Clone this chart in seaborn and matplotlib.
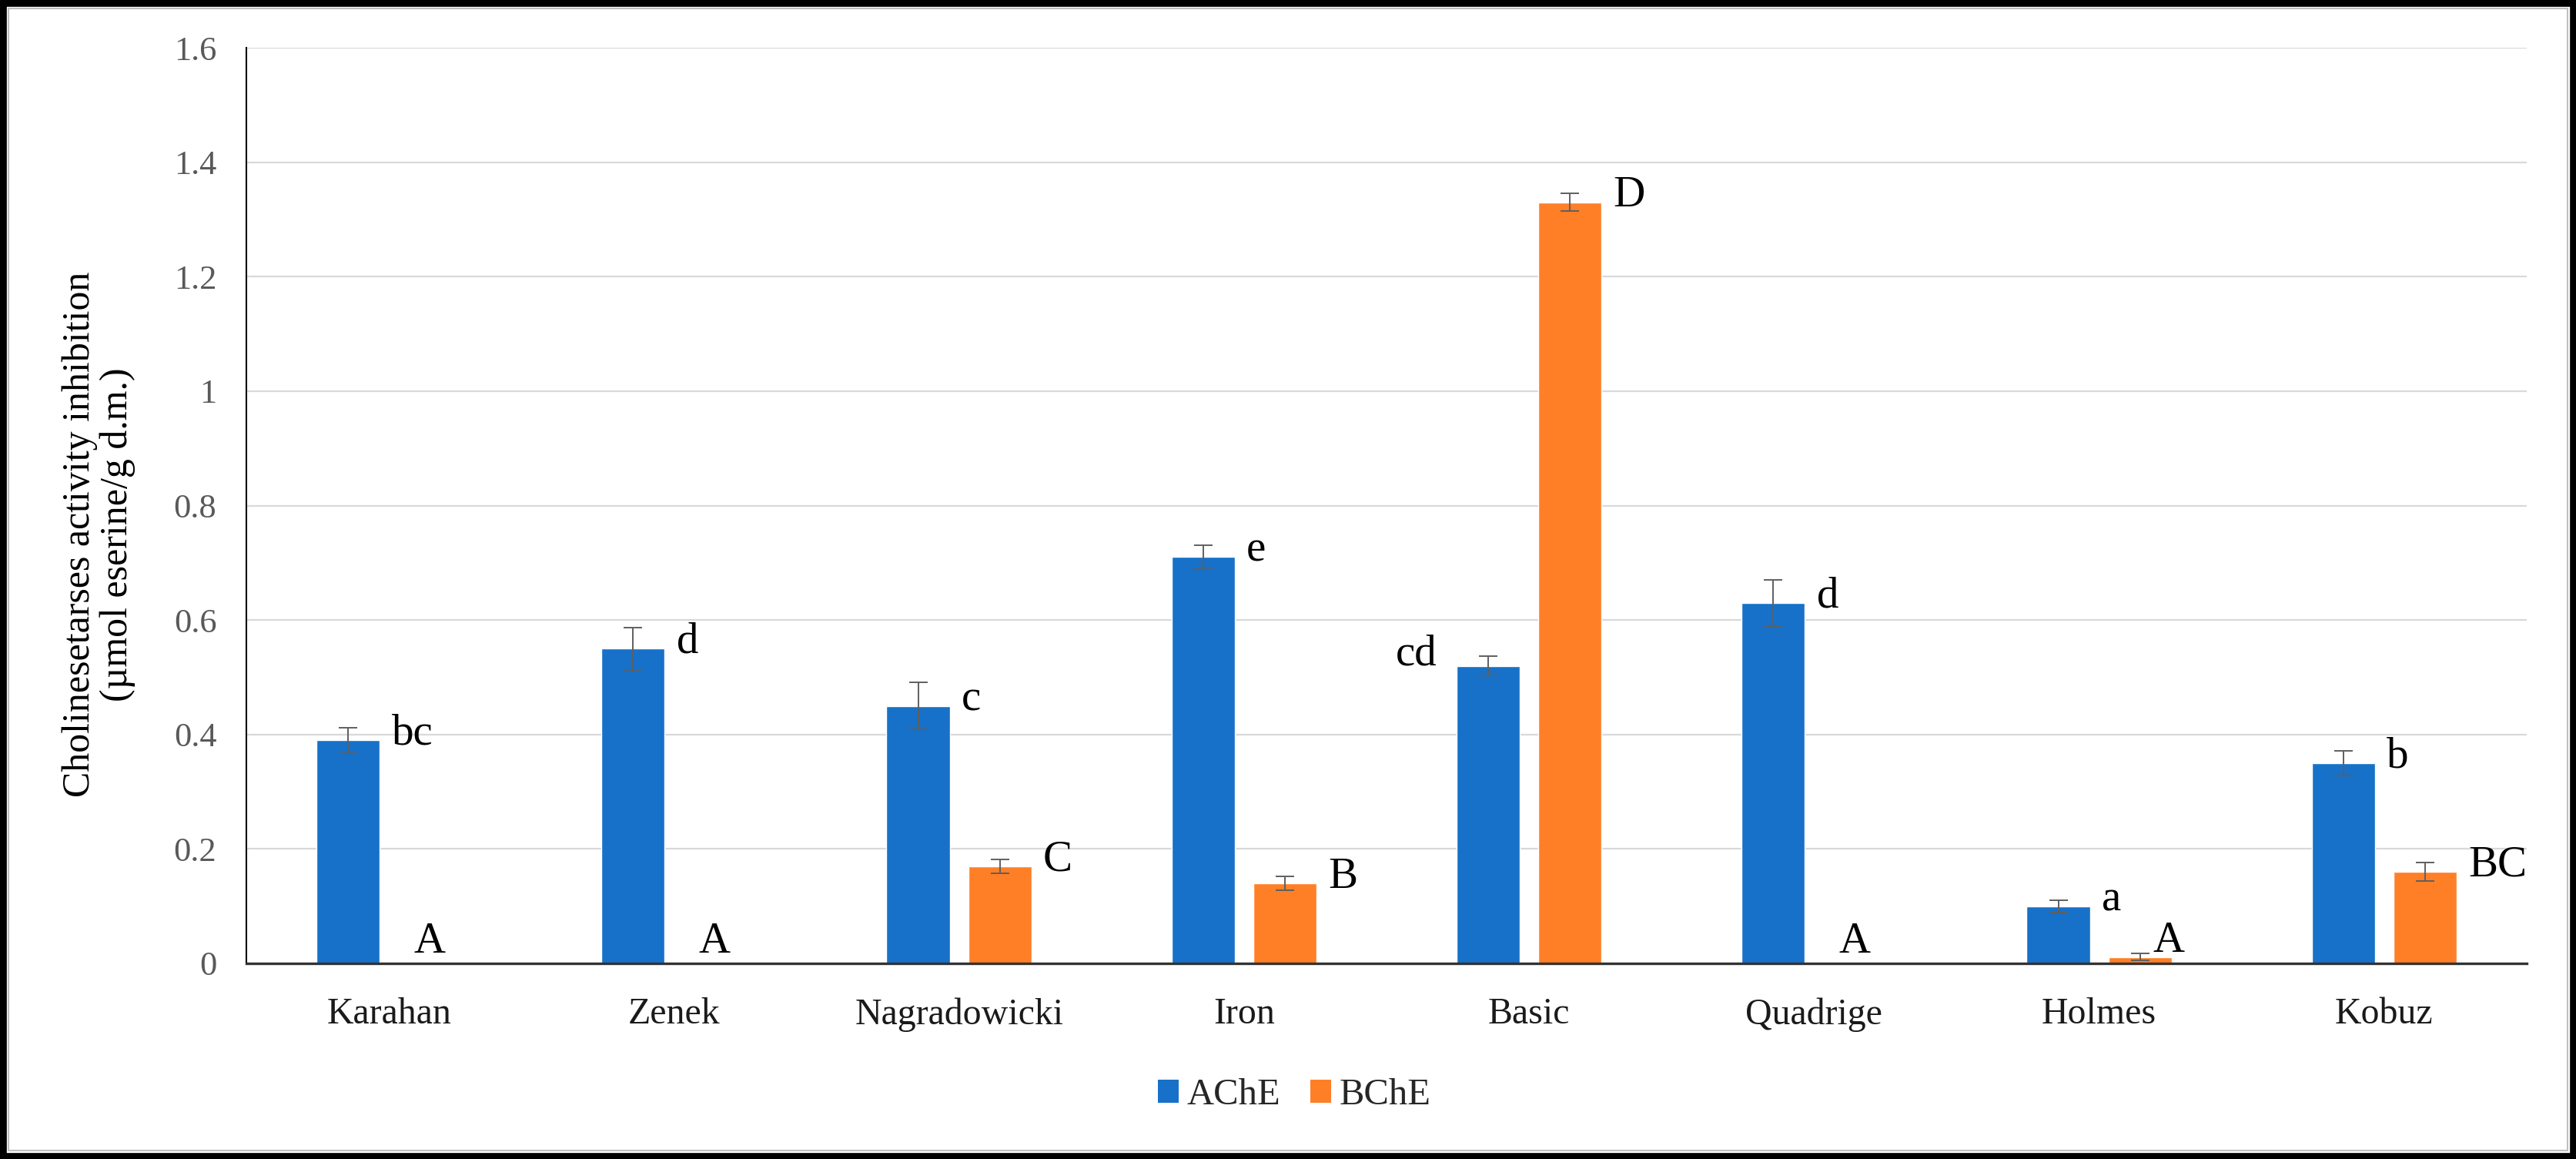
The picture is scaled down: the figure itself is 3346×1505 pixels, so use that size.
import numpy as np
import pandas as pd
import matplotlib
matplotlib.use("Agg")
import matplotlib.pyplot as plt
import seaborn as sns
from matplotlib.patches import Rectangle, Patch

# ---------------- data ----------------
cultivars = ["Karahan", "Zenek", "Nagradowicki", "Iron", "Basic", "Quadrige", "Holmes", "Kobuz"]
series = ["AChE", "BChE"]
ache = [0.39, 0.55, 0.45, 0.71, 0.52, 0.63, 0.10, 0.35]
ache_err = [0.022, 0.037, 0.041, 0.021, 0.017, 0.040, 0.011, 0.022]
bche = [0.0, 0.0, 0.17, 0.14, 1.33, 0.0, 0.011, 0.16]
bche_err = [0.0, 0.0, 0.012, 0.012, 0.015, 0.0, 0.006, 0.016]
ache_letters = ["bc", "d", "c", "e", "cd", "d", "a", "b"]
bche_letters = ["A", "A", "C", "B", "D", "A", "A", "BC"]
yticks = [0, 0.2, 0.4, 0.6, 0.8, 1.0, 1.2, 1.4, 1.6]
ytick_labels = ["0", "0.2", "0.4", "0.6", "0.8", "1", "1.2", "1.4", "1.6"]
ylabel = "Cholinesetarses activity inhibition\n(\u00b5mol eserine/g d.m.)"

# ---------------- style ----------------
sns.set_style("white")
plt.rcParams["font.family"] = ["Liberation Serif", "DejaVu Serif"]
BLUE = "#1771C9"
ORANGE = "#FF7F27"
W, H = 3346, 1505

df = pd.DataFrame({
    "cultivar": cultivars * 2,
    "enzyme": [series[0]] * len(cultivars) + [series[1]] * len(cultivars),
    "value": ache + bche,
})

fig = plt.figure(figsize=(W / 100, H / 100), dpi=100)
fig.patch.set_facecolor("white")
ax = fig.add_axes([320 / W, 1 - 1251 / H, (3282 - 320) / W, (1251 - 62) / H])

sns.barplot(data=df, x="cultivar", y="value", hue="enzyme", order=cultivars,
            hue_order=series, palette=[BLUE, ORANGE], saturation=1,
            width=0.573, gap=0.225, errorbar=None, legend=False, ax=ax)

ax.set_xlim(-0.5, len(cultivars) - 0.5)
ax.set_ylim(0, 1.6)
ax.set_axisbelow(True)
ax.yaxis.grid(True, color="#D9D9D9", linewidth=1.6)
ax.xaxis.grid(False)

for s in ["top", "right"]:
    ax.spines[s].set_visible(False)
ax.spines["left"].set_color("black")
ax.spines["left"].set_linewidth(1.5)
ax.spines["bottom"].set_color("#333333")
ax.spines["bottom"].set_linewidth(2.4)

ax.set_yticks(yticks)
ax.set_yticklabels(ytick_labels)
ax.tick_params(axis="y", direction="inout", length=23.5, width=1.5, color="black",
               labelsize=32, labelcolor="#595959", pad=16)
ax.set_xticks(range(len(cultivars)))
ax.set_xticklabels(cultivars)
ax.tick_params(axis="x", which="major", length=0, labelsize=34.5, labelcolor="#1a1a1a", pad=32)
ax.set_xticks(np.arange(-0.5, len(cultivars)), minor=True)
ax.tick_params(axis="x", which="minor", direction="inout", length=23.5, width=1.5, color="black")
ax.set_xlabel("")
ax.set_ylabel(ylabel, fontsize=36, color="black", linespacing=1.08)
ax.yaxis.set_label_coords(176 / W, 1 - 694 / H, transform=fig.transFigure)

# error bars and letters positioned from the drawn bars
cont_a, cont_b = ax.containers[0], ax.containers[1]
LETTER_FS = 41
for bars, vals, errs, letters, name in [(cont_a, ache, ache_err, ache_letters, "AChE"),
                                        (cont_b, bche, bche_err, bche_letters, "BChE")]:
    xs = [b.get_x() + b.get_width() / 2 for b in bars]
    ex = [x for x, e in zip(xs, errs) if e > 0]
    ey = [v for v, e in zip(vals, errs) if e > 0]
    ee = [e for e in errs if e > 0]
    ax.errorbar(ex, ey, yerr=ee, fmt="none", ecolor="#5f5f5f", elinewidth=1.4,
                capsize=8.3, capthick=1.4, zorder=5)
    for b, v, lab, cult in zip(bars, vals, letters, cultivars):
        x0, w = b.get_x(), b.get_width()
        if v == 0:
            ax.annotate(lab, xy=(x0 + w / 2, 0), xytext=(0, 10), textcoords="offset points",
                        ha="center", va="baseline", fontsize=LETTER_FS, color="black")
        elif v < 0.05:
            ax.annotate(lab, xy=(x0 + w / 2, 0), xytext=(12, 11), textcoords="offset points",
                        ha="left", va="baseline", fontsize=LETTER_FS, color="black")
        elif name == "AChE" and cult == "Basic":
            ax.annotate(lab, xy=(x0, v), xytext=(-18, 1), textcoords="offset points",
                        ha="right", va="baseline", fontsize=LETTER_FS, color="black")
        else:
            ax.annotate(lab, xy=(x0 + w, v), xytext=(11, -4), textcoords="offset points",
                        ha="left", va="baseline", fontsize=LETTER_FS, color="black")

# legend
handles = [Patch(facecolor=BLUE, edgecolor="none"), Patch(facecolor=ORANGE, edgecolor="none")]
fig.legend(handles, series, loc="center", bbox_to_anchor=(0.5024, 0.0551), ncol=2,
           frameon=False, fontsize=35, handlelength=0.55, handleheight=0.6,
           handletextpad=0.22, columnspacing=0.8)

# outer frame
fig.patches.append(Rectangle((0, 0), 1, 1, transform=fig.transFigure, fill=False,
                             edgecolor="black", linewidth=12, zorder=10))
fig.patches.append(Rectangle((11 / W, 11 / H), 1 - 22 / W, 1 - 22 / H, transform=fig.transFigure,
                             fill=False, edgecolor="#BFBFBF", linewidth=1.5, zorder=10))

fig.savefig("out.png", dpi=100, facecolor="white")
